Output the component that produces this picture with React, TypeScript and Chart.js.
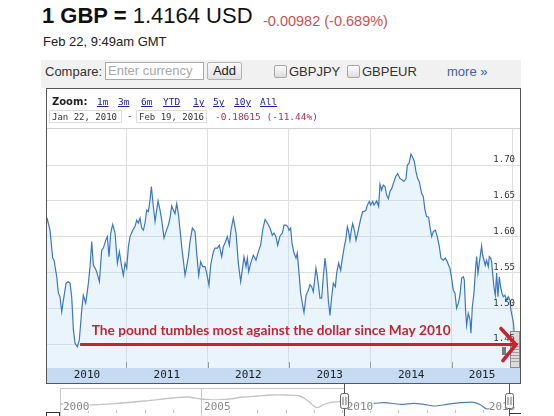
import React, { useEffect, useRef } from 'react';
import { Chart, registerables } from 'chart.js';

Chart.register(...registerables);

// ---------- main series: GBP/USD (decimal year, rate) ----------
const RATE_YEARS = [
  2010.03, 2010.067, 2010.1, 2010.117, 2010.149, 2010.17, 2010.19, 2010.211, 2010.231, 2010.264,
  2010.292, 2010.313, 2010.333, 2010.354, 2010.374, 2010.403, 2010.427, 2010.456, 2010.476, 2010.505,
  2010.538, 2010.558, 2010.579, 2010.599, 2010.62, 2010.64, 2010.673, 2010.701, 2010.722, 2010.751,
  2010.771, 2010.791, 2010.812, 2010.836, 2010.865, 2010.894, 2010.918, 2010.947, 2010.967, 2010.988,
  2011.008, 2011.029, 2011.049, 2011.082, 2011.11, 2011.131, 2011.151, 2011.172, 2011.192, 2011.213,
  2011.233, 2011.254, 2011.274, 2011.294, 2011.311, 2011.335, 2011.356, 2011.376, 2011.393, 2011.417,
  2011.438, 2011.466, 2011.491, 2011.519, 2011.54, 2011.56, 2011.581, 2011.601, 2011.622, 2011.642,
  2011.663, 2011.683, 2011.703, 2011.724, 2011.744, 2011.765, 2011.785, 2011.814, 2011.847, 2011.867,
  2011.892, 2011.916, 2011.941, 2011.969, 2011.99, 2012.018, 2012.039, 2012.072, 2012.092, 2012.121,
  2012.145, 2012.174, 2012.194, 2012.215, 2012.243, 2012.268, 2012.288, 2012.317, 2012.35, 2012.378,
  2012.407, 2012.432, 2012.448, 2012.472, 2012.489, 2012.505, 2012.53, 2012.562, 2012.595, 2012.624,
  2012.652, 2012.677, 2012.706, 2012.734, 2012.767, 2012.795, 2012.816, 2012.84, 2012.861, 2012.89,
  2012.918, 2012.939, 2012.963, 2012.984, 2013.0, 2013.02, 2013.037, 2013.061, 2013.086, 2013.102,
  2013.123, 2013.143, 2013.168, 2013.184, 2013.209, 2013.237, 2013.258, 2013.278, 2013.299, 2013.319,
  2013.331, 2013.348, 2013.364, 2013.38, 2013.401, 2013.421, 2013.442, 2013.462, 2013.483, 2013.503,
  2013.524, 2013.544, 2013.569, 2013.585, 2013.609, 2013.634, 2013.658, 2013.679, 2013.699, 2013.716,
  2013.732, 2013.748, 2013.765, 2013.781, 2013.802, 2013.822, 2013.843, 2013.863, 2013.883, 2013.904,
  2013.92, 2013.945, 2013.961, 2013.986, 2014.002, 2014.027, 2014.043, 2014.076, 2014.1, 2014.117,
  2014.137, 2014.157, 2014.178, 2014.198, 2014.219, 2014.239, 2014.26, 2014.28, 2014.309, 2014.333,
  2014.362, 2014.391, 2014.411, 2014.436, 2014.452, 2014.472, 2014.497, 2014.517, 2014.538, 2014.558,
  2014.579, 2014.599, 2014.628, 2014.648, 2014.669, 2014.689, 2014.714, 2014.73, 2014.751, 2014.771,
  2014.796, 2014.82, 2014.845, 2014.865, 2014.894, 2014.918, 2014.943, 2014.959, 2014.975, 2014.996,
  2015.016, 2015.037, 2015.057, 2015.078, 2015.098, 2015.119, 2015.139, 2015.151, 2015.168, 2015.18,
  2015.2, 2015.221, 2015.233, 2015.25, 2015.27, 2015.29, 2015.303, 2015.319, 2015.335, 2015.352,
  2015.364, 2015.376, 2015.393, 2015.409, 2015.425, 2015.446, 2015.458, 2015.474, 2015.487, 2015.499,
  2015.515, 2015.532, 2015.548, 2015.564, 2015.581, 2015.597, 2015.613, 2015.63, 2015.65, 2015.671,
  2015.691, 2015.712, 2015.724, 2015.74, 2015.753, 2015.765, 2015.785,
];
const RATE_VALUES = [
  1.626, 1.609, 1.57, 1.567, 1.544, 1.521, 1.516, 1.495, 1.511, 1.535,
  1.537, 1.535, 1.516, 1.47, 1.451, 1.446, 1.456, 1.497, 1.518, 1.507,
  1.535, 1.558, 1.593, 1.56, 1.556, 1.551, 1.537, 1.581, 1.584, 1.595,
  1.6, 1.572, 1.605, 1.617, 1.605, 1.563, 1.579, 1.558, 1.546, 1.563,
  1.556, 1.586, 1.6, 1.609, 1.614, 1.623, 1.619, 1.626, 1.612, 1.609,
  1.619, 1.637, 1.635, 1.651, 1.67, 1.642, 1.621, 1.637, 1.65, 1.637,
  1.623, 1.598, 1.607, 1.616, 1.626, 1.643, 1.637, 1.632, 1.646, 1.632,
  1.609, 1.586, 1.567, 1.546, 1.558, 1.572, 1.593, 1.612, 1.607, 1.577,
  1.546, 1.565, 1.558, 1.558, 1.549, 1.532, 1.56, 1.579, 1.584, 1.584,
  1.588, 1.572, 1.586, 1.591, 1.6, 1.588, 1.609, 1.626, 1.605, 1.563,
  1.537, 1.558, 1.572, 1.558, 1.57, 1.551, 1.563, 1.574, 1.567, 1.579,
  1.588, 1.609, 1.624, 1.619, 1.612, 1.602, 1.605, 1.6, 1.588, 1.601,
  1.605, 1.616, 1.616, 1.614, 1.609, 1.612, 1.591, 1.577, 1.57, 1.577,
  1.549, 1.521, 1.504, 1.494, 1.518, 1.525, 1.533, 1.53, 1.523, 1.544,
  1.556, 1.544, 1.53, 1.514, 1.514, 1.544, 1.57, 1.549, 1.511, 1.49,
  1.516, 1.535, 1.53, 1.549, 1.563, 1.553, 1.572, 1.586, 1.598, 1.614,
  1.607, 1.595, 1.609, 1.618, 1.609, 1.595, 1.605, 1.616, 1.626, 1.635,
  1.635, 1.637, 1.644, 1.649, 1.644, 1.649, 1.644, 1.65, 1.642, 1.673,
  1.665, 1.672, 1.67, 1.658, 1.653, 1.663, 1.667, 1.674, 1.684, 1.688,
  1.681, 1.679, 1.677, 1.681, 1.7, 1.702, 1.715, 1.711, 1.705, 1.691,
  1.681, 1.677, 1.66, 1.656, 1.637, 1.628, 1.627, 1.614, 1.6, 1.607,
  1.609, 1.6, 1.586, 1.57, 1.567, 1.57, 1.565, 1.56, 1.556, 1.542,
  1.525, 1.521, 1.5, 1.507, 1.518, 1.542, 1.544, 1.54, 1.495, 1.476,
  1.493, 1.484, 1.465, 1.502, 1.521, 1.556, 1.572, 1.549, 1.563, 1.577,
  1.587, 1.574, 1.567, 1.56, 1.567, 1.558, 1.572, 1.57, 1.565, 1.549,
  1.53, 1.518, 1.549, 1.516, 1.544, 1.53, 1.521, 1.516, 1.518, 1.511,
  1.516, 1.511, 1.497, 1.488, 1.481, 1.465, 1.4164,
];

const X_MIN = 2010.03;
const X_MAX = 2015.835;
const Y_MIN = 1.4165;
const Y_MAX = 1.7503;
const Y_TICKS = [1.45, 1.5, 1.55, 1.6, 1.65, 1.7];
const YEAR_GRID = [2011, 2012, 2013, 2014, 2015, 2015.74];
const YEAR_LABELS = ['2010', '2011', '2012', '2013', '2014', '2015'];
const YEAR_LABEL_AT = [2010.52, 2011.5, 2012.5, 2013.5, 2014.5, 2015.37];

// annotation (anchored on data coordinates)
const NOTE_TEXT = 'The pound tumbles most against the dollar since May 2010';
const NOTE_YEAR = 2010.579;
const NOTE_RATE = 1.4626;
const ARROW_FROM_YEAR = 2010.436;
const ARROW_TO_YEAR = 2015.785;
const ARROW_RATE = 1.4493;

// ---------- navigator series ----------
const NAV_HIST_YEARS = [2000.0, 2001.0, 2002.0, 2003.0, 2004.0, 2004.5, 2005.0, 2005.5, 2006.0, 2006.5, 2007.0, 2007.5, 2008.0, 2008.5, 2008.8, 2009.1, 2009.4, 2009.7, 2010.06];
const NAV_HIST_VALUES = [1.6, 1.55, 1.625, 1.75, 1.9, 1.95, 1.85, 1.8, 1.85, 1.95, 2.0, 2.05, 2.05, 2.0, 1.75, 1.425, 1.6, 1.7, 1.75];
const NAV_SEL_YEARS = [2010.06, 2010.4, 2010.9, 2011.13, 2011.5, 2012.08, 2012.55, 2012.9, 2013.26, 2013.72, 2014.2, 2014.68, 2014.92, 2015.14, 2015.5, 2015.92];
const NAV_SEL_VALUES = [1.7, 1.55, 1.65, 1.635, 1.665, 1.585, 1.635, 1.585, 1.5, 1.585, 1.665, 1.685, 1.55, 1.35, 1.5, 1.4];
const NAV_MIN = 2000;
const NAV_MAX = 2015.92;
const NAV_SEL_START = 2010.06;
const NAV_LABELS = ['2000', '2005', '2010', '2015'];
const NAV_LABEL_AT = [2000, 2005, 2010.06, 2015.1];

const MONO = '"DejaVu Sans Mono", monospace';
const LINE = '#3a78c6';
const FILL = 'rgba(190, 220, 248, 0.32)';
const GRID = '#dedede';
const BAND = '#c6daf1';
const RED = '#c8232f';

const mainPlugin = {
  id: 'mainDecor',
  beforeDraw(chart: any) {
    const { ctx, width } = chart;
    const s = chart.scales.xYears;
    ctx.save();
    ctx.fillStyle = BAND;
    ctx.fillRect(1, s.top, width - 2, s.bottom - s.top);
    ctx.restore();
  },
  afterDatasetsDraw(chart: any) {
    const { ctx, chartArea } = chart;
    const xs = chart.scales.x;
    ctx.save();
    // small tick marks at the bottom of the plot
    ctx.strokeStyle = '#9a9a9a';
    ctx.lineWidth = 1;
    xs.ticks.slice(0, 5).forEach((t: any) => {
      const px = Math.round(xs.getPixelForValue(t.value)) + 0.5;
      ctx.beginPath();
      ctx.moveTo(px, chartArea.bottom - 6);
      ctx.lineTo(px, chartArea.bottom);
      ctx.stroke();
    });
    // scroll grip box at right edge
    const bx = chartArea.right - 10;
    const by = chartArea.bottom - 37;
    ctx.fillStyle = '#dcdcdc';
    ctx.fillRect(bx, by, 10, 37);
    ctx.strokeStyle = '#8c8c8c';
    ctx.strokeRect(bx + 0.5, by + 0.5, 9, 36);
    ctx.strokeStyle = '#a0a0a0';
    for (let yy = by + 12; yy < by + 32; yy += 3) {
      ctx.beginPath();
      ctx.moveTo(bx + 1, yy + 0.5);
      ctx.lineTo(bx + 9, yy + 0.5);
      ctx.stroke();
    }
    ctx.fillStyle = '#7a7a7a';
    ctx.fillRect(bx - 8, by + 16, 4, 8);
    ctx.restore();
  },
  afterDraw(chart: any) {
    const { ctx, width, height, chartArea } = chart;
    const xs = chart.scales.x;
    const ys = chart.scales.y;
    ctx.save();
    // top separator of plot
    ctx.strokeStyle = '#cfcfcf';
    ctx.lineWidth = 1;
    ctx.beginPath();
    ctx.moveTo(1, chartArea.top - 0.5);
    ctx.lineTo(width - 1, chartArea.top - 0.5);
    ctx.stroke();
    // frame
    ctx.strokeStyle = '#555';
    ctx.strokeRect(0.5, 0.5, width - 1, height - 1);
    // arrow
    const x0 = xs.getPixelForValue(ARROW_FROM_YEAR);
    const x1 = xs.getPixelForValue(ARROW_TO_YEAR);
    const ay = ys.getPixelForValue(ARROW_RATE);
    ctx.strokeStyle = RED;
    ctx.lineWidth = 3.2;
    ctx.beginPath();
    ctx.moveTo(x0, ay);
    ctx.lineTo(x1 - 2, ay);
    ctx.stroke();
    ctx.lineWidth = 3.6;
    ctx.lineCap = 'round';
    ctx.beginPath();
    ctx.moveTo(x1 - 15, ay - 16);
    ctx.lineTo(x1, ay);
    ctx.lineTo(x1 - 13, ay + 16);
    ctx.stroke();
    // text
    ctx.fillStyle = RED;
    ctx.font = 'bold 14px Lato, "Open Sans", sans-serif';
    ctx.textAlign = 'left';
    ctx.textBaseline = 'alphabetic';
    ctx.fillText(NOTE_TEXT, xs.getPixelForValue(NOTE_YEAR), ys.getPixelForValue(NOTE_RATE), 359);
    ctx.restore();
  },
};

function MainChart() {
  const ref = useRef<HTMLCanvasElement>(null);
  useEffect(() => {
    const chart = new Chart(ref.current as HTMLCanvasElement, {
      type: 'line',
      data: {
        datasets: [
          {
            data: RATE_YEARS.map((x, i) => ({ x, y: RATE_VALUES[i] })),
            borderColor: LINE,
            backgroundColor: FILL,
            fill: 'start',
            borderWidth: 1.2,
            pointRadius: 0,
            tension: 0,
          },
        ],
      },
      options: {
        animation: false,
        responsive: false,
        devicePixelRatio: 1,
        layout: { padding: { top: 41, left: 1, right: 1, bottom: 1 } },
        plugins: { legend: { display: false }, tooltip: { enabled: false } },
        scales: {
          x: {
            type: 'linear',
            position: 'bottom',
            weight: 0,
            min: X_MIN,
            max: X_MAX,
            afterBuildTicks: (s: any) => {
              s.ticks = YEAR_GRID.map((v) => ({ value: v }));
            },
            afterFit: (s: any) => {
              s.height = 0;
            },
            ticks: { display: false },
            grid: { color: GRID, drawTicks: false },
            border: { display: false },
          },
          xYears: {
            type: 'linear',
            position: 'bottom',
            weight: 1,
            min: X_MIN,
            max: X_MAX,
            afterBuildTicks: (s: any) => {
              s.ticks = YEAR_LABEL_AT.map((v) => ({ value: v }));
            },
            afterFit: (s: any) => {
              s.height = 15;
            },
            ticks: {
              autoSkip: false,
              maxRotation: 0,
              padding: 1,
              color: '#222',
              font: { family: MONO, size: 11 },
              callback: (_v: any, i: number) => YEAR_LABELS[i],
            },
            grid: { display: false, drawTicks: false },
            border: { display: false },
          },
          y: {
            type: 'linear',
            position: 'right',
            min: Y_MIN,
            max: Y_MAX,
            afterBuildTicks: (s: any) => {
              s.ticks = Y_TICKS.map((v) => ({ value: v }));
            },
            afterFit: (s: any) => {
              s.width = 0;
            },
            ticks: {
              mirror: true,
              padding: -5,
              labelOffset: -5,
              z: 1,
              color: '#333',
              font: { family: MONO, size: 9 },
              callback: (v: any) => Number(v).toFixed(2),
            },
            grid: { color: GRID, drawTicks: false },
            border: { display: false },
          },
        } as any,
      },
      plugins: [mainPlugin],
    } as any);
    return () => chart.destroy();
  }, []);
  return (
    <canvas
      ref={ref}
      width={475}
      height={296}
      style={{ position: 'absolute', left: 46, top: 88, width: 475, height: 296 }}
    />
  );
}

const navPlugin = {
  id: 'navDecor',
  beforeDatasetsDraw(chart: any) {
    const { ctx, chartArea } = chart;
    const xs = chart.scales.x;
    const selX = Math.round(xs.getPixelForValue(NAV_SEL_START));
    ctx.save();
    ctx.strokeStyle = '#c8c8c8';
    ctx.lineWidth = 1;
    ctx.beginPath();
    ctx.moveTo(chartArea.left, chartArea.top + 0.5);
    ctx.lineTo(selX, chartArea.top + 0.5);
    ctx.stroke();
    [NAV_LABEL_AT[0], NAV_LABEL_AT[1]].forEach((v) => {
      const px = Math.round(xs.getPixelForValue(v)) + 0.5;
      ctx.beginPath();
      ctx.moveTo(px, chartArea.top);
      ctx.lineTo(px, chartArea.bottom);
      ctx.stroke();
    });
    ctx.strokeStyle = '#bdbdbd';
    for (let yr = NAV_MIN + 1; yr < NAV_MAX; yr++) {
      const px = Math.round(xs.getPixelForValue(yr)) + 0.5;
      ctx.beginPath();
      ctx.moveTo(px, chartArea.bottom - 6);
      ctx.lineTo(px, chartArea.bottom - 3);
      ctx.stroke();
    }
    ctx.restore();
  },
  afterDatasetsDraw(chart: any) {
    const { ctx, chartArea, width } = chart;
    const xs = chart.scales.x;
    ctx.save();
    ctx.font = '11px ' + MONO;
    ctx.textBaseline = 'alphabetic';
    NAV_LABELS.forEach((lab, i) => {
      const px = xs.getPixelForValue(NAV_LABEL_AT[i]) + 3;
      ctx.fillStyle = 'rgba(255,255,255,0.85)';
      ctx.fillRect(px, 16, 27, 11);
      ctx.fillStyle = '#8a8a8a';
      ctx.fillText(lab, px, 26);
    });
    const handles = [xs.getPixelForValue(NAV_SEL_START), chartArea.right];
    handles.forEach((hx) => {
      const cx = Math.round(hx) + 0.5;
      ctx.strokeStyle = '#555';
      ctx.lineWidth = 1;
      ctx.beginPath();
      ctx.moveTo(cx, 0);
      ctx.lineTo(cx, 32);
      ctx.stroke();
      ctx.fillStyle = '#f4f4f4';
      ctx.beginPath();
      (ctx as any).roundRect(cx - 4, 9.5, 8, 15, 2);
      ctx.fill();
      ctx.strokeStyle = '#666';
      ctx.stroke();
      ctx.strokeStyle = '#777';
      ctx.beginPath();
      ctx.moveTo(cx - 1.5, 13);
      ctx.lineTo(cx - 1.5, 21);
      ctx.moveTo(cx + 1.5, 13);
      ctx.lineTo(cx + 1.5, 21);
      ctx.stroke();
    });
    // scrollbar fragments at the bottom edge
    ctx.strokeStyle = '#333';
    ctx.strokeRect(0.5, 28.5, 13, 6);
    ctx.beginPath();
    ctx.moveTo(chartArea.right, 29.5);
    ctx.lineTo(width, 29.5);
    ctx.stroke();
    ctx.restore();
  },
};

function NavChart() {
  const ref = useRef<HTMLCanvasElement>(null);
  useEffect(() => {
    const chart = new Chart(ref.current as HTMLCanvasElement, {
      type: 'line',
      data: {
        datasets: [
          {
            data: NAV_HIST_YEARS.map((x, i) => ({ x, y: NAV_HIST_VALUES[i] })),
            borderColor: '#c4c4c4',
            borderWidth: 1.3,
            pointRadius: 0,
            tension: 0.3,
          },
          {
            data: NAV_SEL_YEARS.map((x, i) => ({ x, y: NAV_SEL_VALUES[i] })),
            borderColor: '#4a80c2',
            borderWidth: 1.2,
            pointRadius: 0,
            tension: 0.3,
          },
        ],
      },
      options: {
        animation: false,
        responsive: false,
        devicePixelRatio: 1,
        layout: { padding: { top: 4, left: 14, right: 12, bottom: 0 } },
        plugins: { legend: { display: false }, tooltip: { enabled: false } },
        scales: {
          x: { type: 'linear', display: false, min: NAV_MIN, max: NAV_MAX },
          y: { type: 'linear', display: false, min: 1.0, max: 2.4 },
        },
      },
      plugins: [navPlugin],
    } as any);
    return () => chart.destroy();
  }, []);
  return (
    <canvas
      ref={ref}
      width={475}
      height={32}
      style={{ position: 'absolute', left: 46, top: 384, width: 475, height: 32 }}
    />
  );
}

const ZOOM_LINKS = ['1m', '3m', '6m', 'YTD', '1y', '5y', '10y', 'All'];
const ZOOM_LINK_X = [97, 118, 141, 163, 193, 213, 234, 260];

const abs = (left: number, top: number, extra: React.CSSProperties = {}): React.CSSProperties => ({
  position: 'absolute',
  left,
  top,
  whiteSpace: 'nowrap',
  ...extra,
});

export default function App() {
  return (
    <div
      style={{
        position: 'absolute',
        left: 0,
        top: 0,
        width: 554,
        height: 416,
        overflow: 'hidden',
        background: '#fff',
        fontFamily: '"Liberation Sans", Arial, sans-serif',
        color: '#222',
      }}
    >
      <div style={abs(42, 5, { fontSize: 22, lineHeight: '22px', color: '#111' })}>
        <b>1 GBP =</b> 1.4164 USD
      </div>
      <div style={abs(263, 14, { fontSize: 14.5, lineHeight: '15px', color: '#c9514f' })}>
        -0.00982 (-0.689%)
      </div>
      <div style={abs(43, 34, { fontSize: 13, lineHeight: '15px', color: '#222' })}>Feb 22, 9:49am GMT</div>

      {/* compare bar */}
      <div style={abs(41, 60, { width: 480, height: 28, background: '#f1f1f1' })} />
      <div style={abs(45, 64, { fontSize: 13, lineHeight: '15px', color: '#333' })}>Compare:</div>
      <div
        style={abs(105, 62, {
          width: 95,
          height: 16,
          border: '1px solid #a9a9a9',
          background: '#fff',
          fontSize: 13,
          lineHeight: '16px',
          color: '#a8a8a8',
          paddingLeft: 2,
          boxSizing: 'content-box',
        })}
      >
        Enter currency
      </div>
      <div
        style={abs(207, 62, {
          width: 33,
          height: 16,
          border: '1px solid #b3b3b3',
          borderRadius: 2,
          background: 'linear-gradient(#fafafa, #e2e2e2)',
          fontSize: 13,
          lineHeight: '16px',
          textAlign: 'center',
          color: '#222',
        })}
      >
        Add
      </div>
      <div
        style={abs(274, 65, {
          width: 11,
          height: 11,
          border: '1px solid #a5a5a5',
          borderRadius: 2,
          background: 'linear-gradient(#fdfdfd, #dedede)',
        })}
      />
      <div style={abs(289, 64, { fontSize: 13, lineHeight: '15px', color: '#333' })}>GBPJPY</div>
      <div
        style={abs(347, 65, {
          width: 11,
          height: 11,
          border: '1px solid #a5a5a5',
          borderRadius: 2,
          background: 'linear-gradient(#fdfdfd, #dedede)',
        })}
      />
      <div style={abs(362, 64, { fontSize: 13, lineHeight: '15px', color: '#333' })}>GBPEUR</div>
      <div style={abs(447, 64, { fontSize: 13, lineHeight: '15px', color: '#3a5fad' })}>more »</div>

      <MainChart />

      {/* zoom row inside frame */}
      <div
        style={abs(52, 95.5, {
          fontFamily: '"DejaVu Sans", Verdana, sans-serif',
          fontWeight: 'bold',
          fontSize: 10,
          lineHeight: '12px',
          color: '#222',
        })}
      >
        Zoom:
      </div>
      {ZOOM_LINKS.map((l, i) => (
        <div
          key={l}
          style={abs(ZOOM_LINK_X[i], 96, {
            fontFamily: MONO,
            fontSize: 9.5,
            lineHeight: '12px',
            color: '#1c1ca8',
            textDecoration: 'underline',
          })}
        >
          {l}
        </div>
      ))}
      <div
        style={abs(49, 110, {
          width: 73,
          height: 13,
          border: '1px solid #dcdcdc',
          fontFamily: MONO,
          fontSize: 9,
          lineHeight: '12px',
          color: '#333',
          paddingLeft: 2,
          boxSizing: 'border-box',
        })}
      >
        Jan 22, 2010
      </div>
      <div style={abs(127, 110, { fontFamily: MONO, fontSize: 9, lineHeight: '13px', color: '#333' })}>-</div>
      <div
        style={abs(136, 110, {
          width: 71,
          height: 13,
          border: '1px solid #dcdcdc',
          fontFamily: MONO,
          fontSize: 9,
          lineHeight: '12px',
          color: '#333',
          paddingLeft: 2,
          boxSizing: 'border-box',
        })}
      >
        Feb 19, 2016
      </div>
      <div style={abs(215, 110, { fontFamily: MONO, fontSize: 9.5, lineHeight: '13px', color: '#b2334c' })}>
        -0.18615 (-11.44%)
      </div>

      <NavChart />
    </div>
  );
}
